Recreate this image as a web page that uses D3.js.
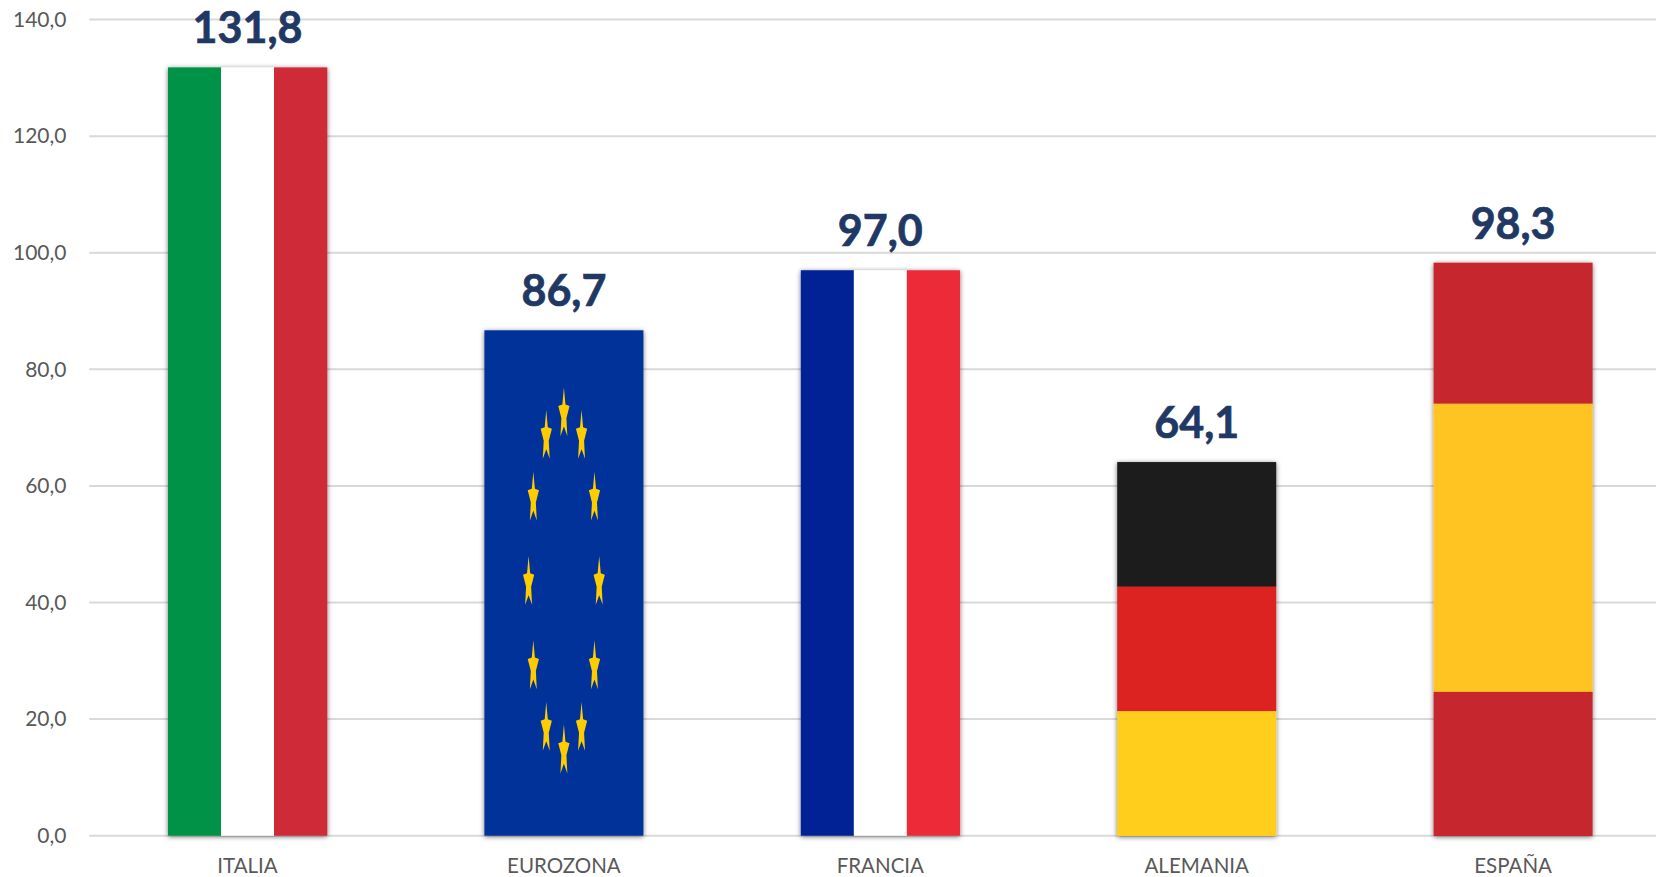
<!DOCTYPE html>
<html><head><meta charset="utf-8">
<script src="https://cdn.jsdelivr.net/npm/d3@7"></script>
<style>
html,body{margin:0;padding:0;background:#fff;overflow:hidden}
svg{display:block}
text{font-family:Lato,sans-serif}
</style></head><body><svg id="c" width="1656" height="877"></svg>
<script>
const categories=["ITALIA","EUROZONA","FRANCIA","ALEMANIA","ESPAÑA"];
const values=[131.8,86.7,97.0,64.1,98.3];
const valueLabels=["131,8","86,7","97,0","64,1","98,3"];
const yTicks=[0,20,40,60,80,100,120,140];
const italyStripes=["#009246","#ffffff","#ce2b37"];
const franceStripes=["#002395","#ffffff","#ed2939"];
const germanyBands=["#1f1f1f","#dd2222","#ffce1c"];
const spainBands=[["#c6272f",0.246],["#ffc423",0.503],["#c6272f",0.251]];
const euBlue="#003399", euGold="#ffcc00";
const starAngles=d3.range(12).map(i=>i*30);

const svg=d3.select("#c");
const x=d3.scaleBand().domain(categories).range([89.3,1671.3]).paddingInner(0.4975).paddingOuter(0.24875);
const y=d3.scaleLinear().domain([0,140]).range([835.7,19.6]);
const defs=svg.append("defs");
const f=defs.append("filter").attr("id","sh").attr("x","-10%").attr("y","-5%").attr("width","120%").attr("height","110%");
f.append("feDropShadow").attr("dx",0).attr("dy",1).attr("stdDeviation",2.8).attr("flood-color","#000").attr("flood-opacity",0.55);

svg.append("g").attr("class","grid").selectAll("line").data(yTicks).join("line")
 .attr("x1",89.3).attr("x2",1656).attr("y1",d=>y(d)).attr("y2",d=>y(d))
 .attr("stroke","#d9d9d9").attr("stroke-width",2);

const yAxis=d3.axisLeft(y).tickValues(yTicks).tickSize(0).tickPadding(0)
 .tickFormat(d=>d3.format(".1f")(d).replace(".",","));
const gy=svg.append("g").attr("transform","translate(66.5,0)").call(yAxis);
gy.select(".domain").remove();
gy.selectAll("text").attr("fill","#595959").style("font-size","21px").style("font-family","Lato,sans-serif");
const xAxis=d3.axisBottom(x).tickSize(0).tickPadding(0);
const gx=svg.append("g").attr("transform","translate(0,858.5)").call(xAxis);
gx.select(".domain").remove();
gx.selectAll("text").attr("fill","#595959").style("font-size","20.5px").style("font-family","Lato,sans-serif");

const bars=svg.append("g").selectAll("g").data(categories).join("g").attr("filter","url(#sh)");
bars.each(function(c,i){
  const g=d3.select(this), x0=x(c), w=x.bandwidth(), top=y(values[i]), h=y(0)-top;
  if(c==="ITALIA"||c==="FRANCIA"){
    const cols=c==="ITALIA"?italyStripes:franceStripes;
    const sx=d3.scaleBand().domain(d3.range(3)).range([x0,x0+w]);
    g.selectAll("rect").data(cols).join("rect").attr("x",(d,k)=>sx(k)).attr("width",sx.bandwidth()+.3)
      .attr("y",top).attr("height",h).attr("fill",d=>d);
  } else if(c==="ALEMANIA"){
    const sy=d3.scaleBand().domain(d3.range(3)).range([top,top+h]);
    g.selectAll("rect").data(germanyBands).join("rect").attr("x",x0).attr("width",w)
      .attr("y",(d,k)=>sy(k)).attr("height",sy.bandwidth()+.3).attr("fill",d=>d);
  } else if(c==="ESPAÑA"){
    let acc=0;
    spainBands.forEach(([col,fr])=>{
      g.append("rect").attr("x",x0).attr("width",w).attr("y",top+acc*h).attr("height",fr*h+.3).attr("fill",col);
      acc+=fr;
    });
  } else {
    g.append("rect").attr("x",x0).attr("width",w).attr("y",top).attr("height",h).attr("fill",euBlue);
    const cx=x0+w/2, rx=35.3, ry=168.6;
    const sR=27, sXr=5.9;
    const star=d3.range(10).map(k=>{
      const a=k*Math.PI/5, r=k%2?0.45:1;
      return [Math.sin(a)*r*sXr, -Math.cos(a)*r*sR];
    });
    const line=d3.line().curve(d3.curveLinearClosed);
    g.selectAll("path.s").data(starAngles).join("path").attr("class","s")
      .attr("d",line(star)).attr("fill",euGold)
      .attr("transform",a=>{const t=a*Math.PI/180;return `translate(${cx+Math.sin(t)*rx},${top+h/2+Math.cos(t)*ry})`});
  }
});

svg.append("g").selectAll("text").data(categories).join("text")
 .attr("x",c=>x(c)+x.bandwidth()/2)
 .attr("y",(c,i)=>y(values[i])-24)
 .attr("text-anchor","middle").attr("fill","#1f3864")
 .attr("stroke","#1f3864").attr("stroke-width",0.7)
 .style("font-size","43px").style("font-weight","700")
 .text((c,i)=>valueLabels[i]);
</script></body></html>
